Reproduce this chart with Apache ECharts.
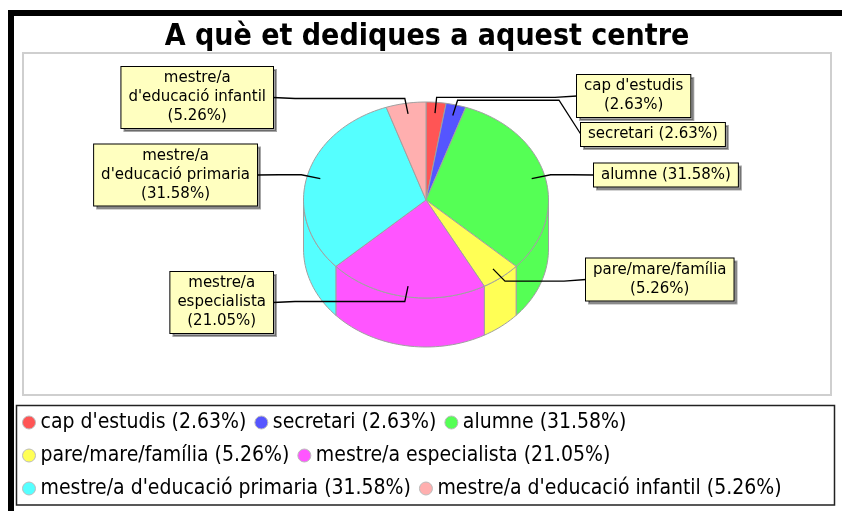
<!DOCTYPE html>
<html>
<head>
<meta charset="utf-8">
<title>A què et dediques a aquest centre</title>
<script src="https://cdn.jsdelivr.net/npm/echarts@6/dist/echarts.min.js"></script>
<style>
  html, body { margin: 0; padding: 0; background: #fff; }
  #chart { width: 842px; height: 511px; }
</style>
</head>
<body>
<div id="chart"></div>
<script>
// respostes per categoria (38 en total)
var categories = ['cap d\'estudis', 'secretari', 'alumne', 'pare/mare/família',
  'mestre/a especialista', 'mestre/a d\'educació primaria', 'mestre/a d\'educació infantil'];
var counts = [1, 1, 12, 2, 8, 12, 2];
// text de les etiquetes, {p} = percentatge
var labelTexts = ['cap d\'estudis\n{p}', 'secretari {p}', 'alumne {p}', 'pare/mare/família\n{p}',
  'mestre/a\nespecialista\n{p}', 'mestre/a\nd\'educació primaria\n{p}', 'mestre/a\nd\'educació infantil\n{p}'];
var palette = ['#ff5555', '#5555ff', '#55ff55', '#ffff55', '#ff55ff', '#55ffff', '#ffafaf'];

// posicio de les caixes d'etiqueta: costat, vora x, centre y
var labelPos = [['R', 577, 96], ['R', 581, 134.5], ['R', 594, 175], ['R', 586, 279.5],
  ['L', 273, 302.5], ['L', 257, 175], ['L', 273, 97.5]];

var CX = 426, CY = 200, RX = 122.5, RY = 98, DEPTH = 49;
var LABEL_FONT = '15px "DejaVu Sans"';
var PAD_X = 7;

var total = counts.reduce(function (a, b) { return a + b; }, 0);
var pct = counts.map(function (v) { return '(' + (v / total * 100).toFixed(2) + '%)'; });
var legendNames = categories.map(function (c, i) { return c + ' ' + pct[i]; });

// angles en graus, començant a dalt i en sentit horari
var startAngles = [], endAngles = [];
var acc = 90;
counts.forEach(function (v) {
  startAngles.push(acc);
  acc -= v / total * 360;
  endAngles.push(acc);
});

function pt (deg, k, dy) {
  var r = deg * Math.PI / 180;
  return [CX + Math.cos(r) * RX * k, CY - Math.sin(r) * RY * k + (dy || 0)];
}
function arc (a, b, dy) {
  var pts = [];
  var n = Math.max(2, Math.ceil(Math.abs(a - b) / 2));
  for (var j = 0; j <= n; j++) pts.push(pt(a + (b - a) * j / n, 1, dy));
  return pts;
}

var ctx = document.createElement('canvas').getContext('2d');
function textWidth (txt) {
  ctx.font = LABEL_FONT;
  return Math.max.apply(null, txt.split('\n').map(function (l) { return ctx.measureText(l).width; }));
}

function renderSide (params, api) {
  var i = params.dataIndex;
  var hi = Math.min(startAngles[i], 0);
  var lo = Math.max(endAngles[i], -180);
  if (hi <= lo) return null;
  var pts = arc(hi, lo, 0).concat(arc(lo, hi, DEPTH));
  return {
    type: 'polygon',
    shape: { points: pts },
    style: { fill: palette[i], stroke: '#a0a0a0', lineWidth: 1 }
  };
}

function renderTop (params, api) {
  var i = params.dataIndex;
  var pts = [[CX, CY]].concat(arc(startAngles[i], endAngles[i], 0));
  return {
    type: 'polygon',
    shape: { points: pts },
    style: { fill: palette[i], stroke: '#a0a0a0', lineWidth: 1 }
  };
}

function renderLabel (params, api) {
  var i = params.dataIndex;
  var mid = (startAngles[i] + endAngles[i]) / 2;
  var link = pt(mid, 0.89);
  var elbow = pt(mid, 1.05);
  var side = labelPos[i][0], edgeX = labelPos[i][1], boxY = labelPos[i][2];
  var txt = labelTexts[i].replace('{p}', pct[i]);
  var w = textWidth(txt) + PAD_X * 2;
  var anchorX = side === 'R' ? edgeX - 22 : edgeX + 22;
  var boxCX = side === 'R' ? edgeX + w / 2 : edgeX - w / 2;
  return {
    type: 'group',
    children: [
      {
        type: 'polyline',
        shape: { points: [link, elbow, [anchorX, elbow[1]], [edgeX, boxY]] },
        style: { stroke: '#000', lineWidth: 1.3, fill: null }
      },
      {
        type: 'text',
        x: boxCX,
        y: boxY,
        style: {
          text: txt,
          font: LABEL_FONT,
          fill: '#000',
          align: 'center',
          verticalAlign: 'middle',
          lineHeight: 19,
          backgroundColor: '#ffffc0',
          borderColor: '#000',
          borderWidth: 1,
          padding: [2, PAD_X],
          shadowColor: 'rgba(0,0,0,0.35)',
          shadowOffsetX: 3,
          shadowOffsetY: 3
        }
      }
    ]
  };
}

var chart = echarts.init(document.getElementById('chart'));
chart.setOption({
  animation: false,
  color: palette,
  title: {
    text: 'A què et dediques a aquest centre',
    left: 427,
    textAlign: 'center',
    top: 22,
    padding: 0,
    textStyle: { fontFamily: 'DejaVu Sans Condensed', fontWeight: 'bold', fontSize: 30, color: '#000' }
  },
  legend: {
    data: legendNames,
    left: 22,
    top: 410,
    width: 810,
    padding: 0,
    itemGap: 8,
    itemWidth: 13,
    itemHeight: 13,
    icon: 'circle',
    selectedMode: false,
    itemStyle: { borderColor: '#bbb', borderWidth: 1 },
    textStyle: { fontFamily: 'DejaVu Sans Condensed', fontSize: 21, lineHeight: 25, color: '#000' }
  },
  graphic: [
    { type: 'rect', shape: { x: 11, y: 13, width: 1000, height: 700 }, style: { fill: null, stroke: '#000', lineWidth: 6 }, z: 10 },
    { type: 'rect', shape: { x: 23, y: 53, width: 808, height: 342 }, style: { fill: null, stroke: '#cfcfcf', lineWidth: 2 } },
    { type: 'rect', shape: { x: 16.5, y: 405.5, width: 818, height: 99.5 }, style: { fill: null, stroke: '#222', lineWidth: 1.5 } }
  ],
  series: [
    {
      // nomes per a la llegenda
      type: 'pie',
      radius: 0,
      silent: true,
      label: { show: false },
      labelLine: { show: false },
      data: legendNames.map(function (n, i) { return { name: n, value: counts[i] }; })
    },
    { type: 'custom', name: 'costats', coordinateSystem: 'none', silent: true, z: 1, renderItem: renderSide, data: counts },
    { type: 'custom', name: 'cares', coordinateSystem: 'none', silent: true, z: 2, renderItem: renderTop, data: counts },
    { type: 'custom', name: 'etiquetes', coordinateSystem: 'none', silent: true, z: 3, renderItem: renderLabel, data: counts }
  ]
});
</script>
</body>
</html>
